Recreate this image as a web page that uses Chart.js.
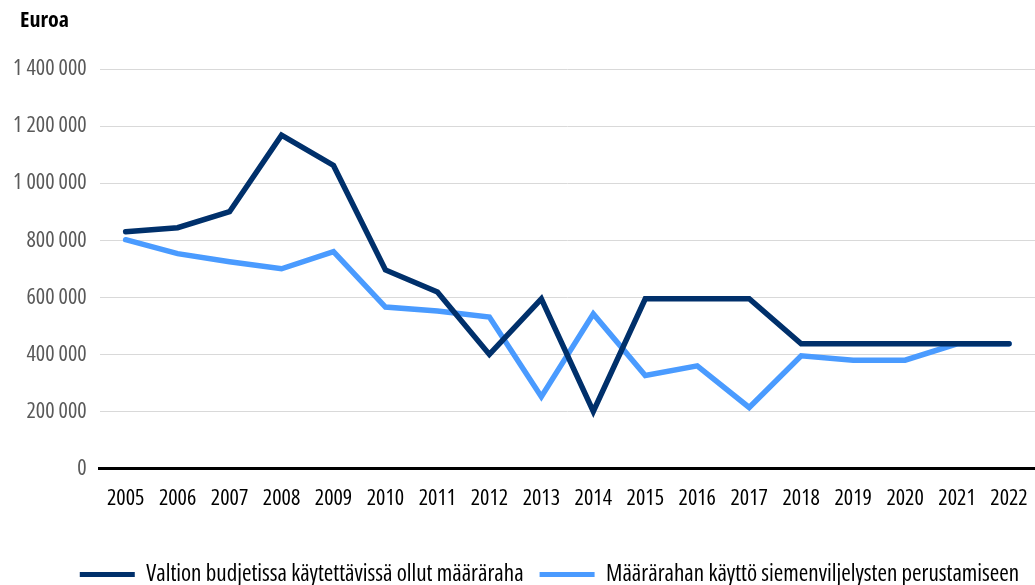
<!DOCTYPE html>
<html>
<head>
<meta charset="utf-8">
<script src="https://cdn.jsdelivr.net/npm/chart.js@4.4.0/dist/chart.umd.min.js"></script>
<style>
  html, body { margin: 0; padding: 0; background: #fff; }
  #wrap { width: 1035px; height: 585px; }
</style>
</head>
<body>
<div id="wrap"><canvas id="chart"></canvas></div>
<script>
// years on the x axis
const years = ['2005', '2006', '2007', '2008', '2009', '2010', '2011', '2012', '2013',
    '2014', '2015', '2016', '2017', '2018', '2019', '2020', '2021', '2022'];

// Valtion budjetissa käytettävissä ollut määräraha
const budget = [830000, 844000, 900000, 1168000, 1062000, 696000, 619000, 400000, 595000,
    200000, 595000, 595000, 595000, 437000, 437000, 437000, 437000, 437000];

// Määrärahan käyttö siemenviljelysten perustamiseen
const used = [802000, 753000, 725000, 700000, 760000, 566000, 552000, 531000, 252000,
    542000, 326000, 360000, 214000, 395000, 380000, 380000, 437000, 437000];

const seriesNames = ['Valtion budjetissa käytettävissä ollut määräraha',
    'Määrärahan käyttö siemenviljelysten perustamiseen'];

// condensed face of Open Sans is installed, close to the original narrow font.
// Chart.js only checks "style", so the stretch keyword rides in "weight"
const FAMILY = '"Open Sans", sans-serif';
const tickFont = { family: FAMILY, size: 22, weight: 'condensed' };
const legendFont = { family: FAMILY, size: 23, weight: 'condensed' };

function fmt(v) {
    return String(v).replace(/\B(?=(\d{3})+(?!\d))/g, ' ');
}

// "Euroa" title above the y axis, legend nudged right like in the original
const extras = {
    id: 'extras',
    afterLayout(chart) {
        chart.legend.left += 32;
        chart.legend.right += 32;
    },
    afterDraw(chart) {
        const c = chart.ctx;
        c.save();
        c.font = 'condensed bold 22px ' + FAMILY;
        c.fillStyle = '#000';
        c.textBaseline = 'middle';
        c.fillText('Euroa', 20, 21);
        c.restore();
    }
};

new Chart(document.getElementById('chart'), {
    type: 'line',
    data: {
        labels: years,
        datasets: [{
            label: seriesNames[0],
            data: budget,
            borderColor: '#00306b',
            backgroundColor: '#00306b',
            borderWidth: 5.5,
            borderCapStyle: 'round',
            pointRadius: 0,
            tension: 0
        }, {
            label: seriesNames[1],
            data: used,
            borderColor: '#4a9bff',
            backgroundColor: '#4a9bff',
            borderWidth: 5.5,
            borderCapStyle: 'round',
            pointRadius: 0,
            tension: 0
        }]
    },
    options: {
        responsive: true,
        maintainAspectRatio: false,
        animation: false,
        layout: { padding: { top: 69, left: 0, right: 0, bottom: -11 } },
        plugins: {
            tooltip: { enabled: false },
            legend: {
                position: 'bottom',
                labels: {
                    font: legendFont,
                    color: '#000',
                    boxWidth: 55,
                    boxHeight: 5,
                    useBorderRadius: true,
                    borderRadius: 2.5,
                    padding: 16,
                    generateLabels(chart) {
                        return chart.data.datasets.map((ds, i) => ({
                            text: ds.label,
                            fillStyle: ds.borderColor,
                            strokeStyle: ds.borderColor,
                            lineWidth: 0,
                            datasetIndex: i
                        }));
                    }
                }
            }
        },
        scales: {
            x: {
                offset: true,
                grid: { display: false, drawTicks: false },
                border: { color: '#000', width: 3 },
                ticks: {
                    color: '#000',
                    font: tickFont,
                    padding: 17,
                    maxRotation: 0,
                    autoSkip: false
                },
                // empty room between the year labels and the legend,
                // and let the plot run to the right edge
                afterFit(scale) {
                    scale.height += 18;
                    scale.paddingRight = 0;
                    scale.paddingLeft = 0;
                }
            },
            y: {
                min: 0,
                max: 1400000,
                grid: { color: '#d9d9d9', lineWidth: 1, drawTicks: false },
                border: { display: false },
                ticks: {
                    stepSize: 200000,
                    color: '#595959',
                    font: tickFont,
                    padding: 13,
                    callback: v => fmt(v)
                }
            }
        }
    },
    plugins: [extras]
});
</script>
</body>
</html>
